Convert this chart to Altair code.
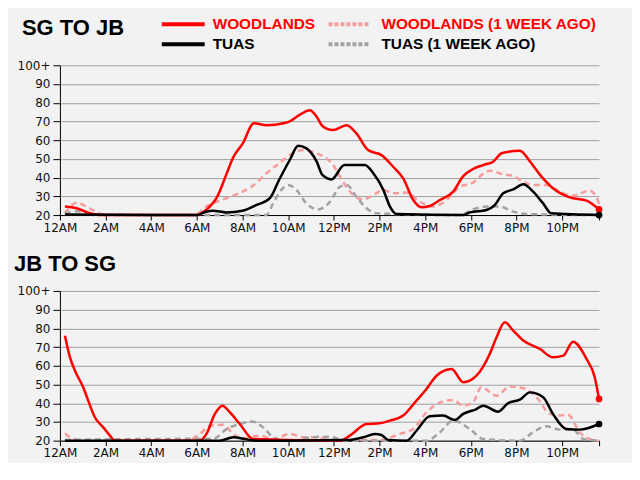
import altair as alt
import pandas as pd

# ---------------- data (hours since midnight, minutes of waiting / index) -------------
SERIES = ["WOODLANDS", "WOODLANDS (1 WEEK AGO)", "TUAS", "TUAS (1 WEEK AGO)"]
COLORS = ["#ff0000", "#f59c9c", "#000000", "#a3a3a3"]
DASHES = [[1, 0], [6, 4], [1, 0], [6, 4]]

# SG TO JB
sj_wood_t = [0.22, 0.73, 1.3, 1.75, 6.0, 6.4, 6.9, 7.3, 7.6, 8.0, 8.5, 9.05, 9.8, 10.07, 10.5, 10.95,
             11.25, 11.5, 11.97, 12.56, 12.99, 13.5, 14.09, 14.6, 15.04, 15.48, 15.84, 16.2, 16.65,
             17.23, 17.67, 18.1, 18.54, 18.98, 19.35, 20.15, 20.6, 21.1, 21.6, 22.34, 23.07, 23.62]
sj_wood_v = [24.5, 23.6, 21, 20, 20, 22.7, 30, 42, 51, 58, 69, 68, 69, 70, 73.5, 76,
             72.5, 67.6, 65.4, 68, 63.6, 54.7, 52, 45.8, 39.6, 28, 24.1, 24.8, 28,
             32.5, 40.8, 44.6, 46.7, 48.5, 53, 54.4, 48.5, 40.5, 34.3, 29.4, 27.7, 23]

sj_woodp_t = [0.22, 0.73, 1.3, 1.9, 5.9, 6.4, 7.3, 8.0, 8.5, 9.05, 9.6, 10.2, 10.66, 11.25, 11.97,
              12.4, 12.85, 13.29, 13.73, 14.17, 14.6, 15.19, 15.77, 16.35, 16.94, 17.52, 18.1,
              18.54, 18.83, 19.42, 19.86, 20.3, 20.73, 21.3, 21.9, 22.48, 23.2, 23.5, 23.62]
sj_woodp_v = [21, 26.6, 23.6, 20.4, 20, 24.5, 29, 32.5, 36, 42.3, 47.6, 53, 54.7, 53, 46.7,
              37.8, 30.7, 28.4, 30.7, 33.4, 31.6, 32, 27.1, 24.5, 28, 35.1, 37.3,
              42, 43.7, 41.7, 40.8, 37.8, 36, 36, 32.5, 30.3, 33, 29.8, 26]

sj_tuas_t = [0.22, 6.0, 6.4, 6.7, 7.3, 8.0, 8.6, 9.2, 9.6, 10.07, 10.44, 10.8, 11.25, 11.5, 11.9,
             12.46, 12.85, 13.36, 13.73, 14.17, 14.46, 14.75, 17.67, 17.96, 18.69, 19.05, 19.42,
             19.86, 20.3, 20.73, 21.17, 21.53, 23.62]
sj_tuas_v = [20.3, 20, 21.8, 22.3, 21.4, 22.3, 25.3, 29, 38.7, 49.4, 57, 55.6, 48.5, 41.4, 39,
             46.7, 46.7, 46.7, 42.3, 33.4, 24.5, 20.5, 20, 21.4, 22.7, 25.3, 31.6,
             33.7, 36.4, 32.5, 26.2, 20.9, 20]

sj_tuasp_t = [0.22, 0.73, 1.3, 1.9, 9.05, 9.34, 9.7, 10.0, 10.36, 10.8, 11.3, 11.83, 12.26, 12.56,
              12.99, 13.43, 13.86, 17.5, 18.1, 18.69, 19.27, 19.86, 20.44, 23.62]
sj_tuasp_v = [21, 22, 21, 20, 20, 26.2, 33.4, 36, 33.4, 26.2, 23, 27, 35.1, 36,
              29.8, 23.6, 20.9, 20, 23, 24.5, 24.5, 21.8, 20.5, 20]

# JB TO SG
js_wood_t = [0.22, 0.44, 0.66, 1.02, 1.24, 1.53, 1.9, 2.19, 2.41, 6.13, 6.42, 6.79, 7.12, 7.45,
             7.88, 8.47, 12.27, 12.7, 13.43, 14.0, 14.45, 15.04, 15.62, 16.06, 16.5, 17.16,
             17.67, 18.25, 18.83, 19.13, 19.49, 19.86, 20.3, 21.03, 21.6, 22.05, 22.48, 23.07,
             23.43, 23.62]
js_wood_v = [76, 64.5, 57.4, 48.5, 41.4, 32.5, 27.1, 22.7, 20, 20, 23.6, 34.3, 38.7, 35.1,
             28.9, 20.9, 20, 22.7, 28.9, 29.3, 30.7, 33.4, 41.4, 47.6, 54.7, 58.3,
             51.2, 54.7, 66.3, 75.2, 83.2, 78.8, 73.5, 69, 64.5, 65.4, 72.9, 63.7,
             53.9, 42.3]

js_woodp_t = [0.22, 0.58, 1.0, 5.55, 6.13, 6.57, 7.15, 7.59, 8.03, 8.76, 9.34, 10.07, 10.66,
              11.24, 11.8, 14.0, 14.9, 15.47, 16.06, 16.79, 17.23, 17.67, 18.1, 18.46, 19.13,
              19.71, 20.3, 20.88, 21.47, 21.9, 22.26, 22.77, 23.2, 23.62]
js_woodp_v = [23.9, 20.9, 20, 20, 23.6, 28, 28.5, 23.6, 21.2, 22.7, 20.9, 23.6, 21.8,
              21.8, 20.5, 20.4, 23.6, 26.2, 35.1, 41, 41.7, 38.7, 40.5, 48.5, 44,
              48.9, 48, 43.2, 34.3, 33.4, 33.9, 24.5, 20.9, 20]

js_tuas_t = [0.22, 7.0, 7.59, 8.18, 8.6, 12.6, 13.29, 13.8, 14.09, 14.38, 15.19, 15.62, 16.2,
             16.79, 17.3, 17.67, 18.25, 18.54, 19.2, 19.63, 20.15, 20.59, 21.17, 21.6, 22.19,
             22.77, 23.62]
js_tuas_v = [20, 20, 21.8, 20.7, 20, 20.3, 21.8, 23.6, 23, 20.4, 20, 25.3, 33,
             33.4, 31, 34.3, 36.9, 38.7, 35.5, 40, 41.9, 45.8, 43.2, 34.3, 26.2,
             25.9, 28.9]

js_tuasp_t = [0.22, 6.13, 6.72, 7.3, 7.88, 8.4, 8.9, 9.34, 9.78, 10.2, 10.8, 11.4, 11.97, 12.4,
              16.06, 16.65, 17.23, 17.96, 18.54, 20.15, 20.73, 21.3, 21.9, 22.48, 22.92, 23.62]
js_tuasp_v = [20.4, 21, 21, 26.2, 28.9, 30.3, 27.1, 21.8, 20, 20, 21.4, 22.1, 21.8, 20,
              20, 24.5, 30.7, 26.2, 20.9, 20, 24.5, 27.7, 25.9, 25.9, 20.9, 20]

X_TICKS = [0, 2, 4, 6, 8, 10, 12, 14, 16, 18, 20, 22]
X_END = 23.62
Y_TICKS = [20, 30, 40, 50, 60, 70, 80, 90, 100]


def frame(pairs):
    rows = []
    for name, (t, v) in zip(SERIES, pairs):
        for a, b in zip(t, v):
            rows.append({"hour": a, "value": b, "series": name})
    return pd.DataFrame(rows)


sgjb = frame([(sj_wood_t, sj_wood_v), (sj_woodp_t, sj_woodp_v),
              (sj_tuas_t, sj_tuas_v), (sj_tuasp_t, sj_tuasp_v)])
jbsg = frame([(js_wood_t, js_wood_v), (js_woodp_t, js_woodp_v),
              (js_tuas_t, js_tuas_v), (js_tuasp_t, js_tuasp_v)])

LABEL_EXPR = ("datum.value > 23 ? '' : datum.value == 0 ? '12AM' : datum.value < 12 ? "
              "datum.value + 'AM' : datum.value == 12 ? '12PM' : (datum.value - 12) + 'PM'")

x_enc = alt.X("hour:Q", title=None,
              scale=alt.Scale(domain=[0, X_END], nice=False, zero=False),
              axis=alt.Axis(values=X_TICKS + [X_END], labelExpr=LABEL_EXPR, grid=False,
                            tickSize=5, labelPadding=2, labelFlush=False))
y_enc = alt.Y("value:Q", title=None,
              scale=alt.Scale(domain=[20, 100], nice=False, zero=False),
              axis=alt.Axis(values=Y_TICKS, labelExpr="datum.value == 100 ? '100+' : datum.value",
                            grid=True, gridColor="#a0a0a0", gridWidth=1, tickSize=7,
                            labelPadding=3))
color_enc = alt.Color("series:N", scale=alt.Scale(domain=SERIES, range=COLORS), legend=None)
dash_enc = alt.StrokeDash("series:N", scale=alt.Scale(domain=SERIES, range=DASHES), legend=None)


def panel(df, title, title_dx, title_dy, with_legend):
    base = alt.Chart(df)
    past = base.transform_filter(alt.FieldOneOfPredicate(field="series", oneOf=[SERIES[1], SERIES[3]])
                                 ).mark_line(interpolate="monotone", strokeWidth=2.5).encode(
        x=x_enc, y=y_enc, color=color_enc, strokeDash=dash_enc, detail="series:N")
    now = base.transform_filter(alt.FieldOneOfPredicate(field="series", oneOf=[SERIES[2], SERIES[0]])
                                ).mark_line(interpolate="monotone", strokeWidth=2.5).encode(
        x=x_enc, y=y_enc, color=color_enc, detail="series:N",
        order=alt.Order("hour:Q"))
    ends = base.transform_filter(alt.FieldOneOfPredicate(field="series", oneOf=[SERIES[2], SERIES[0]])
                                 ).transform_filter(alt.datum.hour >= X_END).mark_circle(
        size=45, opacity=1).encode(x=x_enc, y=y_enc, color=color_enc)
    ttl = alt.Chart(pd.DataFrame({"t": [title]})).mark_text(
        align="left", baseline="middle", font="Liberation Sans", fontWeight="bold",
        fontSize=22, color="#000000").encode(
        text="t:N", x=alt.value(title_dx), y=alt.value(title_dy))
    layers = [past, now, ends, ttl]
    if with_legend:
        # legend entries: (series index, symbol x0, x1, text x, y)
        spots = [(0, 102, 145, 153, -41), (1, 269, 311, 322, -41),
                 (2, 102, 145, 153, -21), (3, 269, 311, 322, -21)]
        for i, x0, x1, tx, yy in spots:
            d = pd.DataFrame({"s": [SERIES[i]]})
            dash = [4, 2] if i in (1, 3) else [1, 0]
            layers.append(alt.Chart(d).mark_rule(strokeWidth=4, color=COLORS[i],
                                                 strokeDash=dash).encode(
                x=alt.value(x0), x2=alt.value(x1), y=alt.value(yy)))
            layers.append(alt.Chart(d).mark_text(
                align="left", baseline="middle", font="Liberation Sans", fontWeight="bold",
                fontSize=15.4, color="#ff0000" if i in (0, 1) else "#000000").encode(
                text="s:N", x=alt.value(tx), y=alt.value(yy)))
    return alt.layer(*layers).properties(width=540, height=150)


top = panel(sgjb, "SG TO JB", -38, -37, True)
bottom = panel(jbsg, "JB TO SG", -46, -27, False)

chart = alt.vconcat(top, bottom, spacing=20).properties(
    background="#f2f2f2", padding={"left": 6, "top": 9, "right": 28, "bottom": 4}
).configure_view(stroke=None).configure_axis(
    domainColor="#000000", domainWidth=1, tickColor="#000000", tickWidth=1,
    labelFont="DejaVu Sans", labelFontSize=12, labelColor="#111111"
)

chart.save("out.html", embed_options={"renderer": "svg", "actions": False})
